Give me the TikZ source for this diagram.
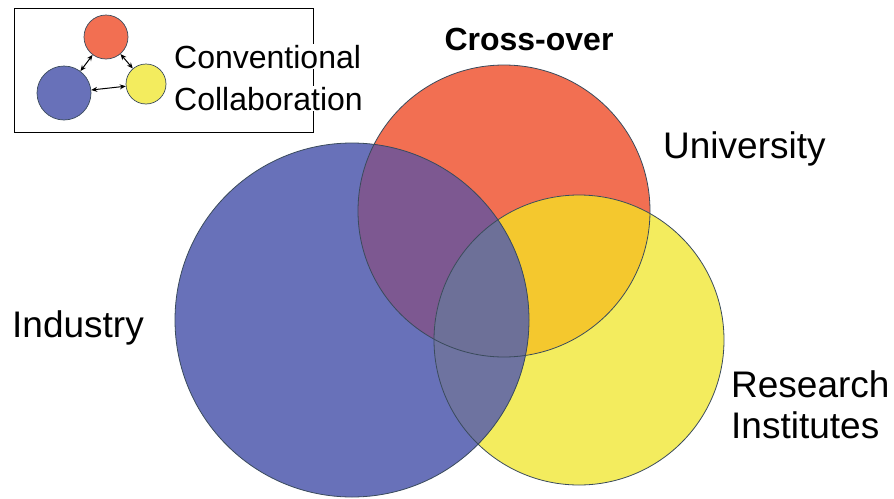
\documentclass[tikz,border=0pt]{standalone}
\usepackage{fontspec}
\setmainfont{Liberation Sans}
\usetikzlibrary{arrows.meta}
\definecolor{unicol}{HTML}{F26F52}
\definecolor{indcol}{HTML}{6871B9}
\definecolor{rescol}{HTML}{F3EC5E}
\definecolor{uniind}{HTML}{7D5891}
\definecolor{unires}{HTML}{F4C82E}
\definecolor{indres}{HTML}{6E73A0}
\definecolor{allcol}{HTML}{6D7098}
\definecolor{rim}{HTML}{3A4B5C}
\tikzset{
  venntext/.style={font=\fontsize{37}{44}\selectfont, inner sep=0pt, anchor=base west},
  minicirc/.style={circle, draw=rim, line width=0.7pt, inner sep=0pt},
  link/.style={{Stealth[length=6pt,width=5pt]}-{Stealth[length=6pt,width=5pt]}, line width=1pt},
}
\begin{document}
\begin{tikzpicture}[x=1pt,y=-1pt]
    \useasboundingbox (0,0) rectangle (894,498);
    % big circles
    \coordinate (cu) at (504,211);
    \coordinate (cr) at (579,340);
    \coordinate (ci) at (352,320);
    \fill[unicol] (cu) circle (146pt);
    \fill[rescol] (cr) circle (145pt);
    \fill[indcol] (ci) circle (177pt);
    \begin{scope}
        \clip (cu) circle (146pt);
        \fill[uniind] (ci) circle (177pt);
        \fill[unires] (cr) circle (145pt);
    \end{scope}
    \begin{scope}
        \clip (ci) circle (177pt);
        \fill[indres] (cr) circle (145pt);
        \clip (cr) circle (145pt);
        \fill[allcol] (cu) circle (146pt);
    \end{scope}
    \draw[rim, line width=0.8pt] (cu) circle (146pt);
    \draw[rim, line width=0.8pt] (cr) circle (145pt);
    \draw[rim, line width=0.8pt] (ci) circle (177pt);
    % labels
    \node[venntext, font=\fontsize{32}{38}\bfseries\selectfont, anchor=base] (cross) at (529,50) {Cross-over};
    \node[venntext] (uni) at (663,158) {University};
    \node[venntext] (ind) at (12,337) {Industry};
    \node[venntext] (res1) at (731,397) {Research};
    \node[venntext] (res2) at (731,438) {Institutes};
    % inset
    \draw[line width=0.8pt] (14,8) rectangle (313,132);
    \node[minicirc, fill=unicol, minimum size=44pt] (ired) at (106,37) {};
    \node[minicirc, fill=indcol, minimum size=54pt] (iblue) at (64,93) {};
    \node[minicirc, fill=rescol, minimum size=40pt] (iyel) at (146,84) {};
    \draw[link] (ired) -- (iblue);
    \draw[link] (ired) -- (iyel);
    \draw[link] (iblue) -- (iyel);
    \node[venntext, font=\fontsize{32}{38}\selectfont, fill=white, inner sep=1pt] (conv1) at (173,68) {Conventional};
    \node[venntext, font=\fontsize{32}{38}\selectfont, fill=white, inner sep=1pt] (conv2) at (173,110) {Collaboration};
\end{tikzpicture}
\end{document}
